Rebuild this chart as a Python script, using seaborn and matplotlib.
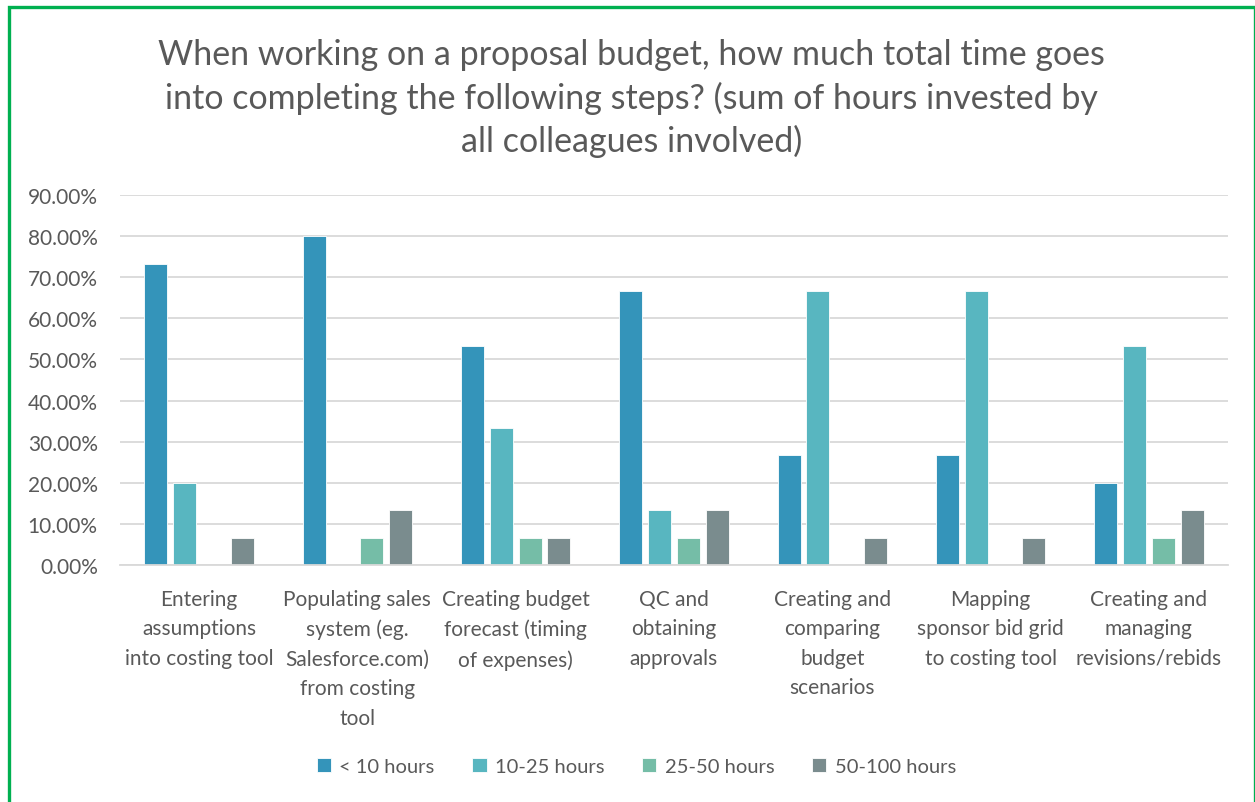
import matplotlib
matplotlib.use("Agg")
import matplotlib.pyplot as plt
from matplotlib.patches import Rectangle
from matplotlib.ticker import FuncFormatter, MultipleLocator
import seaborn as sns
import pandas as pd

categories = [
    "Entering\nassumptions\ninto costing tool",
    "Populating sales\nsystem (eg.\nSalesforce.com)\nfrom costing\ntool",
    "Creating budget\nforecast (timing\nof expenses)",
    "QC and\nobtaining\napprovals",
    "Creating and\ncomparing\nbudget\nscenarios",
    "Mapping\nsponsor bid grid\nto costing tool",
    "Creating and\nmanaging\nrevisions/rebids",
]
series_names = ["< 10 hours", "10-25 hours", "25-50 hours", "50-100 hours"]
under_10 = [73.33, 80.00, 53.33, 66.67, 26.67, 26.67, 20.00]
h10_25 = [20.00, 0.00, 33.33, 13.33, 66.67, 66.67, 53.33]
h25_50 = [0.00, 6.67, 6.67, 6.67, 0.00, 0.00, 6.67]
h50_100 = [6.67, 13.33, 6.67, 13.33, 6.67, 6.67, 13.33]
title = ("When working on a proposal budget, how much total time goes\n"
         "into completing the following steps? (sum of hours invested by\n"
         "all colleagues involved)")

colors = ["#3494BA", "#58B6C0", "#75BDA7", "#7A8C8E"]
text_gray = "#595959"

rows = []
for name, vals in zip(series_names, [under_10, h10_25, h25_50, h50_100]):
    for cat, v in zip(categories, vals):
        rows.append({"step": cat, "bucket": name, "share": v})
df = pd.DataFrame(rows)

sns.set_theme(style="white")
plt.rcParams["font.family"] = ["Lato", "DejaVu Sans"]

fig = plt.figure(figsize=(12.55, 8.03), dpi=100)
ax = fig.add_axes([0.0956, 0.2951, 0.8829, 0.4608])

sns.barplot(data=df, x="step", y="share", hue="bucket", order=categories,
            hue_order=series_names, palette=colors, saturation=1,
            width=0.727, gap=0.2, edgecolor="white", linewidth=0.6,
            ax=ax, legend=True)

ax.set_ylim(0, 90)
ax.set_xlim(-0.5, len(categories) - 0.5)
ax.yaxis.set_major_locator(MultipleLocator(10))
ax.yaxis.set_major_formatter(FuncFormatter(lambda v, p: f"{v:.2f}%"))
ax.grid(axis="y", color="#D9D9D9", linewidth=1.3)
ax.set_axisbelow(True)
for s in ["top", "right", "left"]:
    ax.spines[s].set_visible(False)
ax.spines["bottom"].set_color("#D9D9D9")
ax.spines["bottom"].set_linewidth(1.3)
ax.set_xlabel("")
ax.set_ylabel("")
ax.tick_params(axis="y", labelsize=15, colors=text_gray, length=0, pad=16)
ax.tick_params(axis="x", labelsize=15, colors=text_gray, length=0, pad=17)
for lbl in ax.get_xticklabels():
    lbl.set_linespacing(1.6)
    lbl.set_verticalalignment("top")

ax.legend_.remove()
handles, labels = ax.get_legend_handles_labels()
fig.legend(handles, labels, loc="center", bbox_to_anchor=(0.507, 0.044),
           ncol=4, frameon=False, fontsize=14.5, labelcolor=text_gray,
           handlelength=0.7, handleheight=0.7, handletextpad=0.4,
           columnspacing=1.9)

fig.text(0.503, 0.877, title, ha="center", va="center", fontsize=24.5,
         color=text_gray, linespacing=1.38)

fig.patches.append(Rectangle((9 / 1255, -0.05), (1254.5 - 9) / 1255, 1.05 - 7.5 / 803,
                             transform=fig.transFigure, fill=False,
                             edgecolor="#00B050", linewidth=2.4))

fig.savefig("out.png", dpi=100, facecolor="white")
